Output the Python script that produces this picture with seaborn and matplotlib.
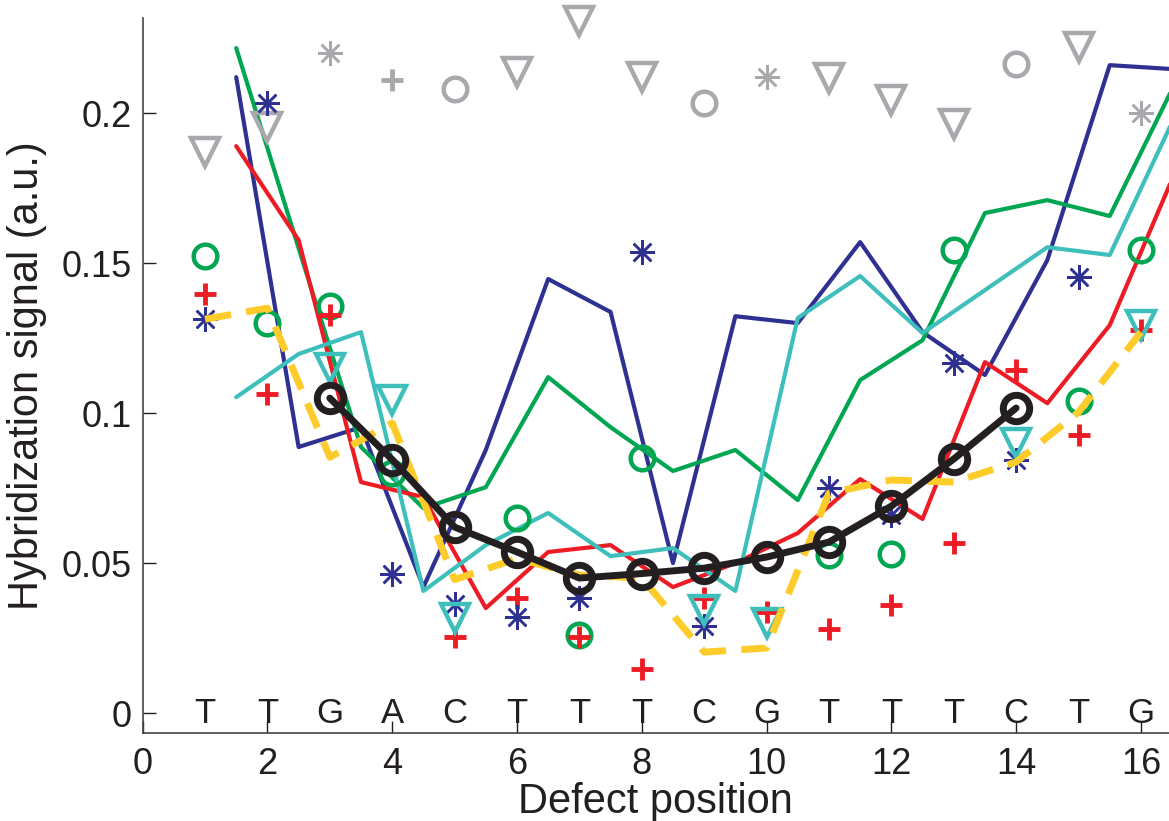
import matplotlib
matplotlib.use('Agg')
import matplotlib.pyplot as plt
import numpy as np
import pandas as pd
import seaborn as sns

sns.set_theme(style='ticks')
plt.rcParams['font.family'] = ['Liberation Sans', 'DejaVu Sans']

# sequence letters shown along y = 0
bases = list('TTGACTTTCGTTTCTG')
pos = list(range(1, 17))

# solid lines sit between the positions
half_pos = [1.5, 2.5, 3.5, 4.5, 5.5, 6.5, 7.5, 8.5, 9.5, 10.5, 11.5, 12.5, 13.5, 14.5, 15.5, 16.5]
blue_line = [0.212, 0.0887, 0.0953, 0.042, 0.0877, 0.1447, 0.1337, 0.050, 0.1323, 0.130,
             0.157, 0.127, 0.1127, 0.151, 0.216, 0.2147]
green_line = [0.2217, 0.155, 0.0887, 0.0683, 0.0753, 0.112, 0.0953, 0.0807, 0.0877, 0.071,
              0.111, 0.1243, 0.1667, 0.171, 0.1657, 0.208]
red_line = [0.189, 0.1577, 0.077, 0.072, 0.035, 0.0537, 0.056, 0.042, 0.050, 0.060,
            0.078, 0.0647, 0.117, 0.1033, 0.1293, 0.178]
cyan_line = [0.1053, 0.1197, 0.127, 0.0407, 0.056, 0.0667, 0.0523, 0.055, 0.0407, 0.1317,
             0.1457, 0.1267, 0.141, 0.1553, 0.1527, 0.197]

# mean curve (black) and dashed yellow curve
black_x = [3, 4, 5, 6, 7, 8, 9, 10, 11, 12, 13, 14]
black_y = [0.105, 0.0845, 0.062, 0.0537, 0.045, 0.0465, 0.0483, 0.052, 0.057, 0.069, 0.0847, 0.1017]
yellow_y = [0.1313, 0.135, 0.0853, 0.0967, 0.0445, 0.0515, 0.046, 0.045, 0.0203, 0.0217,
            0.0733, 0.0777, 0.077, 0.0837, 0.1003, 0.127]

# gray markers at the top
gray_tri_x = [1, 2, 6, 7, 8, 11, 12, 13, 15]
gray_tri_y = [0.187, 0.1953, 0.2137, 0.2307, 0.212, 0.2117, 0.2043, 0.1963, 0.222]
gray_circ_x = [5, 9, 14]
gray_circ_y = [0.208, 0.2033, 0.2163]
gray_star_x = [3, 10, 16]
gray_star_y = [0.220, 0.212, 0.200]
gray_plus_x = [4]
gray_plus_y = [0.211]

# colored markers
green_circ_x = [1, 2, 3, 4, 6, 7, 8, 11, 12, 13, 15, 16]
green_circ_y = [0.1523, 0.130, 0.1357, 0.080, 0.065, 0.026, 0.085, 0.0527, 0.053, 0.1543, 0.104, 0.1543]
red_plus_x = [1, 2, 3, 5, 6, 7, 8, 9, 10, 11, 12, 13, 14, 15, 16]
red_plus_y = [0.1397, 0.1063, 0.1327, 0.0253, 0.0383, 0.0253, 0.0147, 0.0383, 0.0337, 0.028,
              0.036, 0.0567, 0.1143, 0.0927, 0.1277]
blue_star_x = [1, 2, 4, 5, 6, 7, 8, 9, 11, 12, 13, 14, 15]
blue_star_y = [0.1313, 0.2033, 0.0463, 0.0363, 0.032, 0.0383, 0.1537, 0.029, 0.075, 0.066,
               0.1167, 0.0843, 0.1453]
cyan_tri_x = [3, 4, 5, 9, 10, 14, 16]
cyan_tri_y = [0.115, 0.1043, 0.0317, 0.0343, 0.030, 0.090, 0.1293]

c_blue = '#2e3192'
c_green = '#00a651'
c_red = '#ed1c24'
c_cyan = '#3fbfbc'
c_yellow = '#fdcb2a'
c_gray = '#a7a9ac'
c_black = '#231f20'

fig = plt.figure(figsize=(11.69, 8.21), dpi=100)
ax = fig.add_axes([0.122, 0.107, 0.878, 0.871])

star = (8, 2, 0)

def markers(xs, ys, color, marker, ms, mew, z=3):
    sns.lineplot(x=xs, y=ys, ax=ax, color=color, marker=marker, markersize=ms,
                 markeredgewidth=mew, markerfacecolor='none', markeredgecolor=color,
                 linestyle='none', zorder=z, estimator=None, sort=False, clip_on=False)

# gray
markers(gray_tri_x, gray_tri_y, c_gray, 'v', 20, 3.2)
markers(gray_circ_x, gray_circ_y, c_gray, 'o', 17, 3.2)
markers(gray_star_x, gray_star_y, c_gray, star, 18, 1.8)
markers(gray_plus_x, gray_plus_y, c_gray, '+', 16, 3.5)

for ys, col in [(blue_line, c_blue), (green_line, c_green), (red_line, c_red), (cyan_line, c_cyan)]:
    sns.lineplot(x=half_pos, y=ys, ax=ax, color=col, linewidth=3, estimator=None, sort=False, zorder=2)

markers(green_circ_x, green_circ_y, c_green, 'o', 17, 3.2)
markers(red_plus_x, red_plus_y, c_red, '+', 16, 3.5)
markers(blue_star_x, blue_star_y, c_blue, star, 18, 1.8)
markers(cyan_tri_x, cyan_tri_y, c_cyan, 'v', 20, 3.2)

sns.lineplot(x=pos, y=yellow_y, ax=ax, color=c_yellow, linewidth=5, estimator=None,
             sort=False, zorder=4, dashes=False)
ax.lines[-1].set_dashes([3.8, 2.2])
sns.lineplot(x=black_x, y=black_y, ax=ax, color=c_black, linewidth=5, marker='o',
             markersize=19, markeredgewidth=5, markerfacecolor='none',
             markeredgecolor=c_black, estimator=None, sort=False, zorder=5)

for p, b in zip(pos, bases):
    ax.text(p, 0, b, ha='center', va='center', fontsize=25, color='#231f20')

ax.set_xlim(0, 16.45)
ax.set_ylim(-0.0067, 0.2317)
ax.set_xticks(range(0, 17, 2))
ax.set_yticks([0, 0.05, 0.1, 0.15, 0.2])
ax.set_yticklabels(['0', '0.05', '0.1', '0.15', '0.2'])
ax.tick_params(direction='in', length=9, width=1, labelsize=26, colors='#231f20', pad=10)
ax.tick_params(axis='y', pad=8)
ax.set_xlabel('Defect position', fontsize=30, labelpad=0, color='#231f20')
ax.set_ylabel('Hybridization signal (a.u.)', fontsize=30, labelpad=10, color='#231f20')
for s in ['top', 'right']:
    ax.spines[s].set_visible(False)
for s in ['left', 'bottom']:
    ax.spines[s].set_color('#444444')
    ax.spines[s].set_linewidth(1.2)

fig.savefig('out.png', dpi=100)
